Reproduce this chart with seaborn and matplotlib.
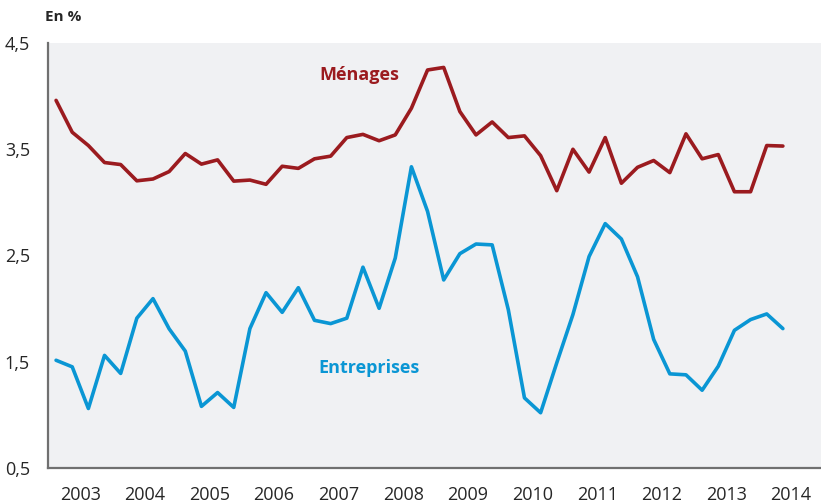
import numpy as np
import pandas as pd
import matplotlib.pyplot as plt
import seaborn as sns

# Quarterly series, 2003Q1 to 2014Q2 (en %)
menages = [3.96, 3.66, 3.535, 3.375, 3.356, 3.203, 3.22, 3.29, 3.46, 3.36,
           3.40, 3.20, 3.21, 3.17, 3.34, 3.32, 3.41, 3.435, 3.61, 3.64,
           3.58, 3.635, 3.886, 4.246, 4.27, 3.855, 3.635, 3.757, 3.61, 3.626,
           3.44, 3.11, 3.50, 3.285, 3.61, 3.18, 3.33, 3.394, 3.28, 3.645,
           3.41, 3.45, 3.10, 3.10, 3.535, 3.53]
entreprises = [1.514, 1.452, 1.06, 1.56, 1.39, 1.91, 2.094, 1.81, 1.60, 1.08,
               1.21, 1.07, 1.812, 2.15, 1.965, 2.197, 1.89, 1.859, 1.91, 2.39,
               2.003, 2.476, 3.335, 2.915, 2.27, 2.517, 2.608, 2.60, 1.99, 1.16,
               1.02, 1.49, 1.944, 2.49, 2.80, 2.655, 2.30, 1.71, 1.386, 1.377,
               1.232, 1.458, 1.796, 1.897, 1.95, 1.812]
years = list(range(2003, 2015))
y_ticks = [0.5, 1.5, 2.5, 3.5, 4.5]

red = "#9B1B1F"
blue = "#0A96D4"

df = pd.DataFrame({
    "t": list(range(len(menages))) * 2,
    "valeur": menages + entreprises,
    "serie": ["Ménages"] * len(menages) + ["Entreprises"] * len(entreprises),
})

sns.set_style("white")
plt.rcParams["font.family"] = ["Open Sans", "DejaVu Sans"]

fig = plt.figure(figsize=(8.21, 5.04), dpi=100)
ax = fig.add_axes([48 / 821, 1 - 468 / 504, 773 / 821, 425 / 504])
ax.set_facecolor("#F0F1F3")

sns.lineplot(data=df, x="t", y="valeur", hue="serie",
             palette={"Ménages": red, "Entreprises": blue},
             linewidth=2.6, legend=False, ax=ax)

ax.set_xlim(-0.5, 47.36)
ax.set_ylim(0.5, 4.5)
ax.set_xlabel("")
ax.set_ylabel("")

# y axis
ax.set_yticks(y_ticks)
ax.set_yticklabels([f"{v:.1f}".replace(".", ",") for v in y_ticks], fontsize=13)
ax.tick_params(axis="y", length=6, width=1.2, color="#888888", pad=7)

# x axis: ticks at year boundaries, labels at mid-year
bounds = [4 * k + 3.5 for k in range(len(years) - 1)]
ax.set_xticks(bounds)
ax.set_xticklabels([])
ax.tick_params(axis="x", which="major", length=11, width=1.2, color="#888888")
ax.set_xticks([4 * k + 1.5 for k in range(len(years))], minor=True)
ax.set_xticklabels([str(y) for y in years], minor=True, fontsize=13)
ax.tick_params(axis="x", which="minor", length=0, pad=13)

for side in ["top", "right"]:
    ax.spines[side].set_visible(False)
for side in ["left", "bottom"]:
    ax.spines[side].set_color("#707070")
    ax.spines[side].set_linewidth(1.6)

ax.text(18.8, 4.2, "Ménages", color=red, fontsize=13, fontweight="bold", ha="center", va="center")
ax.text(19.4, 1.445, "Entreprises", color=blue, fontsize=13, fontweight="bold", ha="center", va="center")

fig.text(45 / 821, 1 - 17 / 504, "En %", fontsize=11, fontweight="bold", ha="left", va="center")

fig.savefig("out.png", dpi=100)
